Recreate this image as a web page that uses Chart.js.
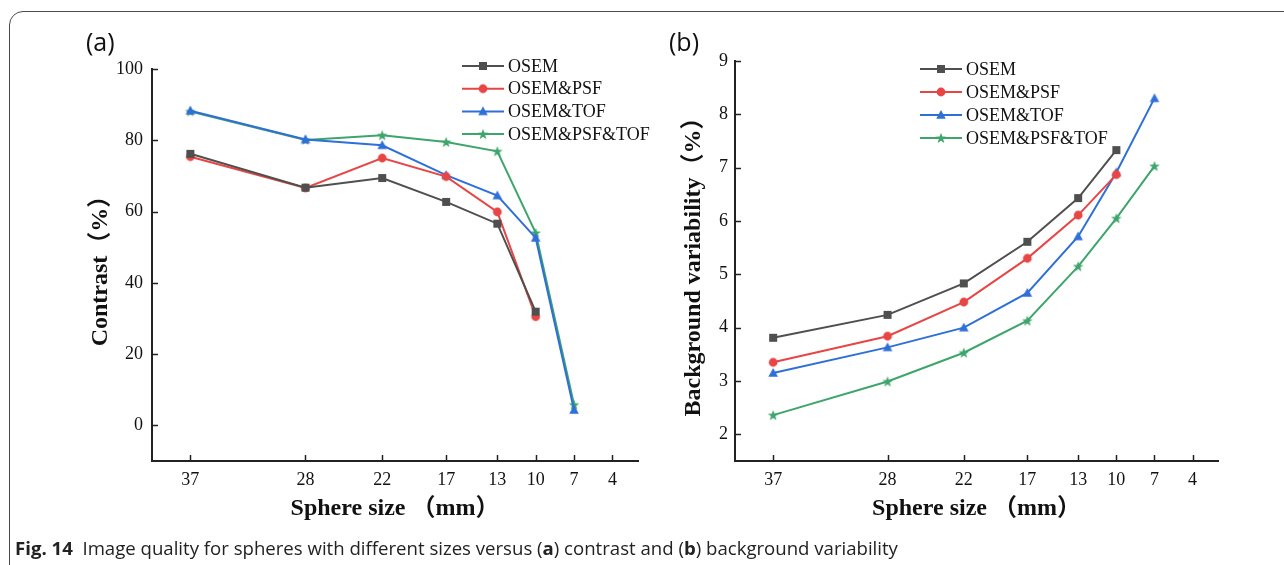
<!DOCTYPE html>
<html>
<head>
<meta charset="utf-8">
<script src="https://cdn.jsdelivr.net/npm/chart.js@4.4.1/dist/chart.umd.min.js"></script>
<style>
  html, body { margin: 0; padding: 0; background: #fff; }
  body { width: 1284px; height: 565px; position: relative; overflow: hidden; }
  #frame { position: absolute; left: 9px; top: 11px; width: 1400px; height: 600px;
           border: 1.5px solid #4a4a4a; border-radius: 14px; }
  canvas { position: absolute; top: 0; }
  #chartA { left: 0; }
  #chartB { left: 640px; }
  .panel { position: absolute; top: 29px; font-family: "Open Sans"; font-size: 25px;
           line-height: 25px; color: #111; }
  #caption { position: absolute; left: 15px; top: 538px; font-family: "Open Sans";
             font-size: 18.6px; line-height: 19px; color: #222; white-space: nowrap; }
</style>
</head>
<body>
<div id="frame"></div>
<canvas id="chartA" width="660" height="540"></canvas>
<canvas id="chartB" width="644" height="540"></canvas>
<div class="panel" style="left:86px">(a)</div>
<div class="panel" style="left:669px">(b)</div>
<div id="caption"><b>Fig. 14</b>&nbsp; Image quality for spheres with different sizes versus (<b>a</b>) contrast and (<b>b</b>) background variability</div>

<script>
// sphere sizes (mm) and axis ticks
const sizes = [37, 28, 22, 17, 13, 10, 7]
const xTicks = [37, 28, 22, 17, 13, 10, 7, 4]
const seriesNames = ['OSEM', 'OSEM&PSF', 'OSEM&TOF', 'OSEM&PSF&TOF']

// (a) contrast, %
const contrastOSEM = [76.2, 66.7, 69.4, 62.7, 56.6, 31.9]
const contrastPSF = [75.4, 66.6, 75.0, 69.8, 59.9, 30.5]
const contrastTOF = [88.3, 80.2, 78.6, 70.2, 64.5, 52.6, 4.3]
const contrastPSFTOF = [88.1, 80.1, 81.4, 79.5, 76.9, 54.0, 5.8]
const contrastTicks = [0, 20, 40, 60, 80, 100]

// (b) background variability, %
const bvOSEM = [3.81, 4.24, 4.83, 5.61, 6.43, 7.33]
const bvPSF = [3.35, 3.84, 4.48, 5.30, 6.11, 6.87]
const bvTOF = [3.15, 3.63, 4.00, 4.65, 5.71, 6.91, 8.30]
const bvPSFTOF = [2.36, 2.99, 3.53, 4.13, 5.15, 6.05, 7.03]
const bvTicks = [2, 3, 4, 5, 6, 7, 8, 9]

const colors = ['#4f4f4f', '#e84545', '#2f6fd8', '#3ea56c']
const shapes = ['square', 'circle', 'triangle', 'star']

//marker images
function makeMarker(shape, color) {
    const c = document.createElement('canvas')
    c.width = 14; c.height = 14
    const g = c.getContext('2d')
    g.fillStyle = color
    g.beginPath()
    if (shape == 'square') {
        g.rect(3, 3, 8, 8)
    } else if (shape == 'circle') {
        g.arc(7, 7, 4.4, 0, Math.PI * 2)
    } else if (shape == 'triangle') {
        g.moveTo(7, 2); g.lineTo(11.8, 10.8); g.lineTo(2.2, 10.8); g.closePath()
    } else {
        for (let i = 0; i < 10; i++) {
            const r = i % 2 ? 2.3 : 5.6
            const a = -Math.PI / 2 + i * Math.PI / 5
            g.lineTo(7 + r * Math.cos(a), 7.4 + r * Math.sin(a))
        }
        g.closePath()
    }
    g.fill()
    return c
}
const markers = shapes.map((s, i) => makeMarker(s, colors[i]))

const toPoints = arr => arr.map((v, i) => ({x: sizes[i], y: v}))

const makeDatasets = list => list.map((arr, i) => ({
    label: seriesNames[i],
    data: toPoints(arr),
    borderColor: colors[i],
    backgroundColor: colors[i],
    borderWidth: 2,
    pointStyle: markers[i],
    pointRadius: 5,
    tension: 0
}))

//inward tick marks
const innerTicks = {
    id: 'innerTicks',
    afterDraw(chart) {
        const ctx = chart.ctx
        const a = chart.chartArea
        ctx.save()
        ctx.strokeStyle = '#222'
        ctx.lineWidth = 1.5
        chart.scales.y.ticks.forEach(t => {
            const p = Math.round(chart.scales.y.getPixelForValue(t.value)) + 0.5
            ctx.beginPath(); ctx.moveTo(a.left, p); ctx.lineTo(a.left + 6, p); ctx.stroke()
        })
        chart.scales.x.ticks.forEach(t => {
            const p = Math.round(chart.scales.x.getPixelForValue(t.value)) + 0.5
            ctx.beginPath(); ctx.moveTo(p, a.bottom); ctx.lineTo(p, a.bottom - 6); ctx.stroke()
        })
        ctx.restore()
    }
}

//legend drawn inside the plot
const innerLegend = {
    id: 'innerLegend',
    afterDraw(chart, args, opts) {
        const ctx = chart.ctx
        ctx.save()
        ctx.font = '18px "Liberation Serif"'
        ctx.textBaseline = 'middle'
        chart.data.datasets.forEach((ds, i) => {
            const y = opts.y + i * opts.dy
            ctx.strokeStyle = ds.borderColor
            ctx.lineWidth = 2
            ctx.beginPath(); ctx.moveTo(opts.x, y); ctx.lineTo(opts.x + 42, y); ctx.stroke()
            ctx.drawImage(ds.pointStyle, opts.x + 21 - 7, y - 7)
            ctx.fillStyle = '#111'
            ctx.fillText(ds.label, opts.x + 46, y + 1)
        })
        ctx.restore()
    }
}

const tickFont = {family: '"Liberation Serif"', size: 18}
const titleFont = {family: '"Liberation Serif", "Noto Sans CJK SC"', size: 24, weight: 'bold'}

function makeConfig(datasets, yMin, yMax, yTicks, yTitle, yW, yTitlePad, yPad, pad, legend) {
    return {
        type: 'line',
        data: {datasets: datasets},
        options: {
            responsive: false,
            devicePixelRatio: 1,
            animation: false,
            layout: {padding: pad},
            plugins: {
                legend: {display: false},
                tooltip: {enabled: false},
                innerLegend: legend
            },
            scales: {
                x: {
                    type: 'linear',
                    reverse: true,
                    min: 2,
                    max: 40,
                    afterBuildTicks: s => { s.ticks = xTicks.map(v => ({value: v})) },
                    afterFit: s => { s.height = 79 },
                    grid: {drawOnChartArea: false, drawTicks: false},
                    border: {display: true, color: '#222', width: 2},
                    ticks: {font: tickFont, color: '#111', padding: 8, maxRotation: 0},
                    title: {display: true, text: 'Sphere size （mm）', font: titleFont, color: '#111',
                            padding: {top: 0, bottom: 17}}
                },
                y: {
                    min: yMin,
                    max: yMax,
                    afterBuildTicks: s => { s.ticks = yTicks.map(v => ({value: v})) },
                    afterFit: s => { s.width = yW },
                    grid: {drawOnChartArea: false, drawTicks: false},
                    border: {display: true, color: '#222', width: 2},
                    ticks: {font: tickFont, color: '#111', padding: yPad},
                    title: {display: true, text: yTitle, font: titleFont, color: '#111',
                            padding: {top: yTitlePad, bottom: 0}}
                }
            }
        },
        plugins: [innerTicks, innerLegend]
    }
}

const chartA = new Chart(document.getElementById('chartA'), makeConfig(
    makeDatasets([contrastOSEM, contrastPSF, contrastTOF, contrastPSFTOF]),
    -10, 100, contrastTicks, 'Contrast（%）', 152, 86, 9,
    {top: 69, right: 22, bottom: 0, left: 0},
    {x: 462, y: 66, dy: 22.7}
))

const chartB = new Chart(document.getElementById('chartB'), makeConfig(
    makeDatasets([bvOSEM, bvPSF, bvTOF, bvPSFTOF]),
    1.5, 9, bvTicks, 'Background variability（%）', 95, 39, 7,
    {top: 61, right: 66, bottom: 0, left: 0},
    {x: 280, y: 69, dy: 23}
))
</script>
</body>
</html>
